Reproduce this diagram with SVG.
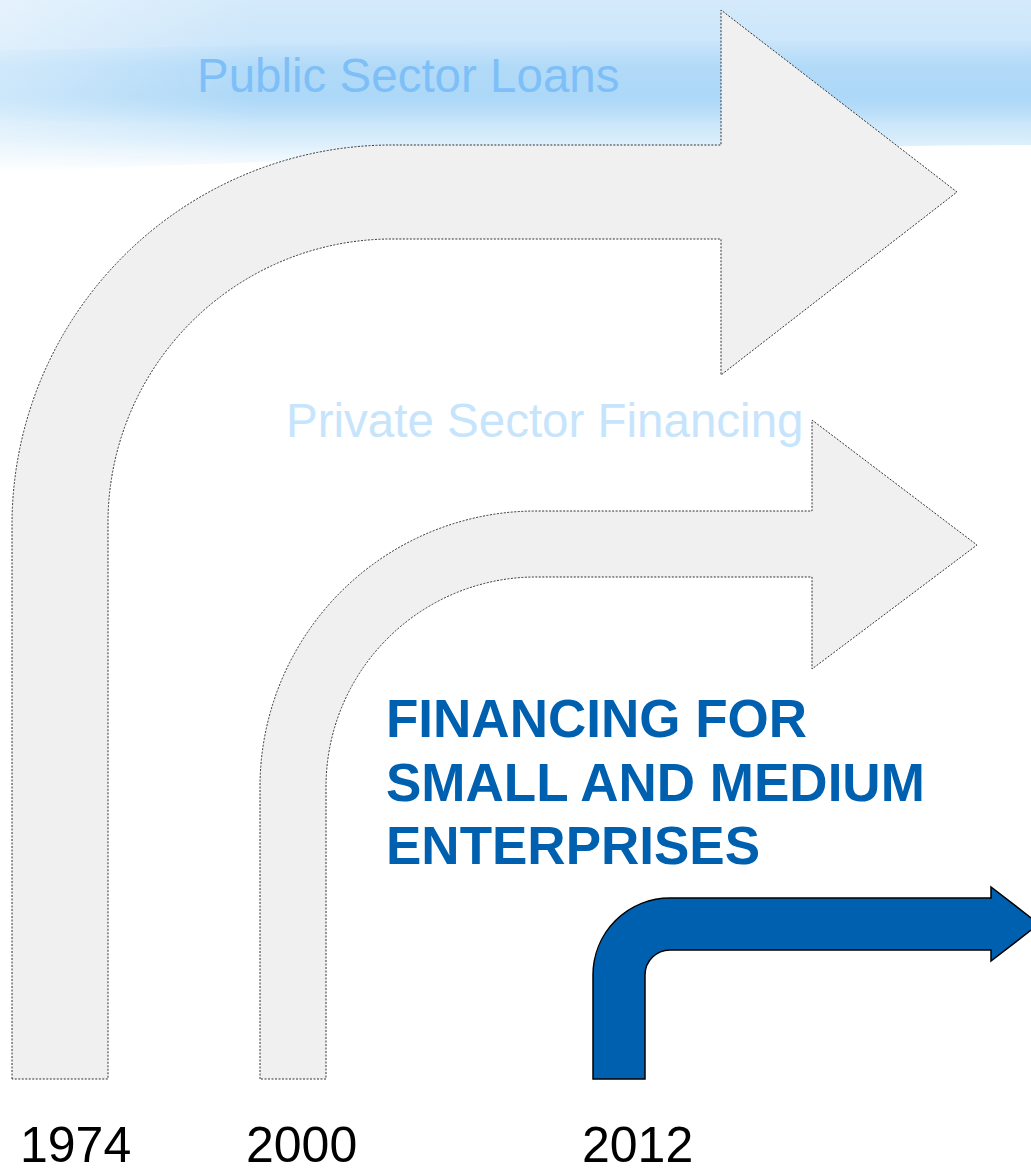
<svg xmlns="http://www.w3.org/2000/svg" width="1031" height="1168" viewBox="0 0 1031 1168">
  <defs>
    <linearGradient id="sky" x1="0" y1="0" x2="0" y2="1">
      <stop offset="0" stop-color="#d4eafb"/>
      <stop offset="0.35" stop-color="#c8e4fa"/>
      <stop offset="0.55" stop-color="#b6dcf8"/>
      <stop offset="0.8" stop-color="#d6ecfb"/>
      <stop offset="1" stop-color="#ffffff"/>
    </linearGradient>
    <linearGradient id="band" x1="0" y1="0" x2="0" y2="1">
      <stop offset="0" stop-color="#a6d5f7" stop-opacity="0"/>
      <stop offset="0.3" stop-color="#a6d5f7" stop-opacity="0.6"/>
      <stop offset="0.7" stop-color="#a6d5f7" stop-opacity="0.6"/>
      <stop offset="1" stop-color="#a6d5f7" stop-opacity="0"/>
    </linearGradient>
    <linearGradient id="leftglow" x1="0" y1="0" x2="1" y2="0">
      <stop offset="0" stop-color="#ffffff" stop-opacity="0.4"/>
      <stop offset="0.25" stop-color="#ffffff" stop-opacity="0"/>
    </linearGradient>
  </defs>
  <style>
    .ghost { fill: #f0f0f0; stroke: #333333; stroke-width: 1; stroke-dasharray: 2 1.5; }
    .blue { fill: #0060b0; stroke: #000000; stroke-width: 1.5; stroke-linejoin: miter; }
    .year { font-family: "Liberation Sans", Arial, sans-serif; font-size: 50px; fill: #000000; }
    .title { font-family: "Liberation Sans", Arial, sans-serif; font-size: 47.5px; }
    .sme { font-family: "Liberation Sans", Arial, sans-serif; font-size: 53px; font-weight: bold; fill: #0060b0; }
  </style>

  <g id="background">
    <rect x="0" y="0" width="1031" height="1168" fill="#ffffff"/>
    <path d="M0,0 H1031 V145 C800,146 400,155 0,172 Z" fill="url(#sky)"/>
    <path d="M0,50 C300,44 700,38 1031,40 V122 C700,124 300,128 0,120 Z" fill="url(#band)"/>
    <path d="M0,0 H1031 V145 C800,146 400,155 0,172 Z" fill="url(#leftglow)"/>
  </g>

  <g id="arrow-1974">
    <path class="ghost" d="M12,1079 V525 A380,380 0 0 1 392,145 H721 V10 L957,192 L721,375 V239 H392 A284,284 0 0 0 108,523 V1079 Z"/>
  </g>

  <g id="arrow-2000">
    <path class="ghost" d="M260,1079 V787 A276,276 0 0 1 536,511 H812 V420 L977,545 L812,669 V577 H536 A210,210 0 0 0 326,787 V1079 Z"/>
  </g>

  <g id="arrow-2012">
    <path class="blue" d="M593,1079 V975 A77,77 0 0 1 670,898 H991 V887 L1039,924 L991,961 V950 H670 A25,25 0 0 0 645,975 V1079 Z"/>
  </g>

  <g id="labels">
    <text class="title" x="197" y="92" fill="#7ebff8">Public Sector Loans</text>
    <text class="title" x="286" y="437" fill="#c6e4fc">Private Sector Financing</text>
    <text class="sme" x="386" y="737">FINANCING FOR</text>
    <text class="sme" x="386" y="801">SMALL AND MEDIUM</text>
    <text class="sme" x="386" y="864">ENTERPRISES</text>
  </g>

  <g id="years">
    <text class="year" x="20" y="1162">1974</text>
    <text class="year" x="246" y="1162">2000</text>
    <text class="year" x="582" y="1162">2012</text>
  </g>

  <g id="connectors"/>
</svg>
